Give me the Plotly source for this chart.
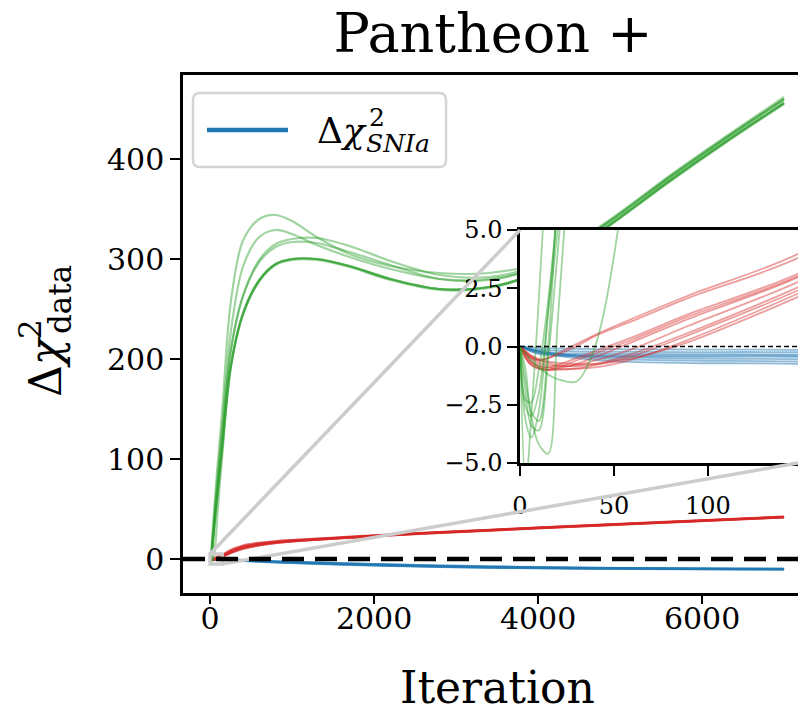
import plotly.graph_objects as go

# Optimiser iterations at which each run was sampled
ITERATION = [0, 3, 6, 10, 15, 20, 30, 40, 60, 90, 150, 250, 400, 600, 800,
             1000, 1300, 1700, 2200, 2800, 3400, 4000, 4800, 5600, 6300, 7000]

# Delta chi^2 of the total data set, one list per run
GREEN_RUNS = [
    [0, -3.2, -3.9, -2.8, 1.5, 6, 15, 24, 42, 66, 115, 193, 245, 279, 295, 300, 300, 293, 280, 270, 272, 287, 330, 378, 418, 456],
    [0, -2.0, -3.4, -3.6, -0.5, 4, 13, 22, 40, 64, 113, 191, 244, 278, 295, 300, 300, 293, 280, 270, 272, 287, 330, 378, 418, 456],
    [0, -1.5, -3.0, -4.2, -4.6, 1, 12, 21, 39, 63, 112, 190, 244, 278, 294, 299, 299, 292, 279, 269, 271, 286, 329, 377, 417, 455],
    [0, -0.3, -0.6, -0.9, -1.2, -1.4, -1.5, 0, 10, 45, 105, 190, 246, 279, 295, 300, 300, 293, 280, 270, 272, 287, 330, 378, 418, 456],
    [0, -2.3, -2.4, -1.0, 2.0, 6, 16, 26, 46, 72, 124, 207, 262, 297, 312, 317, 316, 307, 294, 280, 279, 292, 333, 381, 421, 459],
    [0, -2.6, -3.0, -2.0, 1.5, 5, 15, 25, 45, 71, 123, 207, 263, 299, 315, 320, 321, 313, 298, 284, 282, 294, 334, 382, 422, 460],
    [0, -1.0, -2.8, -3.2, 0, 7, 20, 30, 52, 82, 135, 225, 292, 322, 329, 325, 314, 302, 290, 280, 280, 292, 333, 381, 421, 460],
    [0, -6.0, -3.0, 2, 9, 15, 27, 38, 60, 92, 150, 255, 318, 340, 344, 338, 322, 305, 293, 286, 286, 296, 335, 383, 423, 462],
]

# Delta chi^2 contribution of the second probe, one list per run
RED_RUNS = [
    [0, -0.3, -0.5, -0.6, -0.5, -0.3, 0.1, 0.5, 1.2, 2.2, 4.05, 9.0, 13.5, 16.3, 17.8, 19.0, 20.4, 22.3, 24.6, 27.0, 29.1, 31.5, 34.4, 37.3, 39.8, 42.4],
    [0, -0.2, -0.4, -0.55, -0.5, -0.35, 0.0, 0.45, 1.1, 2.1, 3.87, 8.7, 13.2, 16.0, 17.6, 18.8, 20.2, 22.1, 24.4, 26.9, 29.0, 31.4, 34.3, 37.2, 39.7, 42.3],
    [0, -0.4, -0.7, -0.85, -0.9, -0.8, -0.5, -0.2, 0.4, 1.4, 3.2, 7.8, 12.3, 15.3, 17.1, 18.4, 19.9, 21.8, 24.2, 26.7, 28.9, 31.3, 34.2, 37.1, 39.6, 42.1],
    [0, -0.5, -0.8, -0.95, -1.0, -0.95, -0.75, -0.45, 0.2, 1.2, 3.05, 7.5, 12.0, 15.1, 17.0, 18.3, 19.8, 21.7, 24.1, 26.6, 28.8, 31.2, 34.1, 37.0, 39.5, 42.0],
    [0, -0.3, -0.5, -0.7, -0.8, -0.85, -0.8, -0.6, -0.1, 0.9, 2.84, 7.0, 11.5, 14.7, 16.7, 18.1, 19.7, 21.6, 24.0, 26.5, 28.7, 31.1, 34.0, 36.9, 39.4, 41.9],
    [0, -0.25, -0.45, -0.6, -0.7, -0.8, -0.85, -0.75, -0.3, 0.6, 2.62, 6.6, 11.0, 14.3, 16.4, 17.9, 19.5, 21.5, 23.9, 26.4, 28.6, 31.0, 33.9, 36.8, 39.3, 41.8],
    [0, -0.4, -0.7, -0.9, -1.0, -1.0, -0.95, -0.8, -0.4, 0.5, 2.48, 6.3, 10.7, 14.0, 16.2, 17.7, 19.4, 21.4, 23.8, 26.3, 28.5, 30.9, 33.8, 36.7, 39.2, 41.7],
    [0, -0.3, -0.6, -0.8, -0.9, -0.95, -0.95, -0.9, -0.55, 0.3, 2.34, 6.0, 10.3, 13.7, 16.0, 17.6, 19.3, 21.3, 23.7, 26.2, 28.4, 30.8, 33.7, 36.6, 39.1, 41.6],
    [0, -0.2, -0.4, -0.55, -0.65, -0.7, -0.75, -0.75, -0.5, 0.2, 2.19, 5.7, 10.0, 13.5, 15.8, 17.5, 19.2, 21.2, 23.6, 26.1, 28.3, 30.7, 33.6, 36.5, 39.0, 41.5],
    [0, -0.5, -0.8, -0.95, -1.0, -0.9, -0.6, -0.3, 0.3, 1.3, 3.1, 7.6, 12.1, 15.2, 17.0, 18.3, 19.8, 21.7, 24.1, 26.6, 28.8, 31.2, 34.1, 37.0, 39.5, 42.0],
]

# Delta chi^2 of the SNIa (Pantheon+) likelihood, one list per run
BLUE_RUNS = [
    [0, -0.02, -0.04, -0.06, -0.08, -0.09, -0.1, -0.11, -0.12, -0.13, -0.15, -0.4, -1.0, -1.8, -2.4, -2.9, -3.5, -4.4, -5.4, -6.5, -7.4, -8.1, -8.8, -9.2, -9.5, -9.7],
    [0, -0.05, -0.1, -0.14, -0.17, -0.19, -0.21, -0.22, -0.23, -0.24, -0.25, -0.5, -1.1, -1.9, -2.5, -3.0, -3.7, -4.6, -5.6, -6.7, -7.6, -8.3, -9.0, -9.4, -9.7, -9.9],
    [0, -0.08, -0.15, -0.22, -0.27, -0.29, -0.3, -0.31, -0.32, -0.33, -0.35, -0.6, -1.2, -2.0, -2.6, -3.1, -3.8, -4.8, -5.9, -7.0, -7.9, -8.5, -9.1, -9.5, -9.8, -10.0],
    [0, -0.1, -0.2, -0.28, -0.33, -0.35, -0.36, -0.37, -0.38, -0.39, -0.4, -0.7, -1.3, -2.1, -2.8, -3.3, -4.0, -5.0, -6.1, -7.2, -8.1, -8.7, -9.3, -9.7, -9.9, -10.1],
    [0, -0.1, -0.22, -0.32, -0.38, -0.4, -0.41, -0.42, -0.43, -0.44, -0.45, -0.75, -1.4, -2.3, -3.0, -3.5, -4.3, -5.3, -6.4, -7.5, -8.3, -8.9, -9.4, -9.8, -10.0, -10.2],
    [0, -0.06, -0.12, -0.18, -0.24, -0.3, -0.38, -0.43, -0.48, -0.52, -0.55, -0.85, -1.5, -2.4, -3.1, -3.7, -4.5, -5.5, -6.6, -7.6, -8.4, -9.0, -9.5, -9.9, -10.1, -10.3],
    [0, -0.07, -0.14, -0.21, -0.28, -0.34, -0.43, -0.5, -0.56, -0.61, -0.65, -0.95, -1.6, -2.5, -3.2, -3.8, -4.6, -5.6, -6.7, -7.7, -8.5, -9.1, -9.6, -10.0, -10.2, -10.4],
    [0, -0.08, -0.16, -0.24, -0.32, -0.39, -0.5, -0.58, -0.66, -0.71, -0.75, -1.1, -1.8, -2.7, -3.4, -4.0, -4.8, -5.8, -6.9, -7.9, -8.7, -9.2, -9.7, -10.1, -10.3, -10.5],
]

MAIN_X_TICKS = [0, 2000, 4000, 6000]
MAIN_Y_TICKS = [0, 100, 200, 300, 400]
INSET_X_TICKS = [0, 50, 100]
INSET_Y_TICKS = [-5.0, -2.5, 0.0, 2.5, 5.0]

MAIN_X_RANGE = [-330, 7170]
MAIN_Y_RANGE = [-34, 484]
INSET_X_RANGE = [0, 148]
INSET_Y_RANGE = [-5, 5]

# ---- figure geometry (pixels) ----
W, H = 798, 710
PL, PR, PT, PB = 183, 798, 75, 593
INSET_L, INSET_T, INSET_B = 520, 230, 463
FONT = "DejaVu Serif"

GREEN = "rgba(44,160,44,0.45)"
RED = "rgba(214,39,40,0.45)"
BLUE = "rgba(31,119,180,0.5)"
GREY = "#cccccc"


def px2paper(x, y):
    return (x - PL) / (PR - PL), (PB - y) / (PB - PT)


inset_x0, inset_y1 = px2paper(INSET_L, INSET_T)
_, inset_y0 = px2paper(INSET_L, INSET_B)

fig = go.Figure()

for runs, colour in ((BLUE_RUNS, BLUE), (RED_RUNS, RED), (GREEN_RUNS, GREEN)):
    for run in runs:
        for xa, ya, w in (("x", "y", 2.2), ("x2", "y2", 1.8)):
            fig.add_trace(go.Scatter(
                x=ITERATION, y=run, mode="lines", xaxis=xa, yaxis=ya,
                line=dict(color=colour, width=w, shape="spline", smoothing=0.9),
                showlegend=False, hoverinfo="skip"))

axis_common = dict(showline=True, linecolor="black", ticks="outside",
                   tickcolor="black", showgrid=False, zeroline=False)

fig.update_layout(
    width=W, height=H,
    margin=dict(l=PL, r=W - PR, t=PT, b=H - PB),
    paper_bgcolor="white", plot_bgcolor="white",
    showlegend=False,
    font=dict(family=FONT, color="black"),
    xaxis=dict(domain=[0, 1], range=MAIN_X_RANGE, tickvals=MAIN_X_TICKS,
               ticktext=[str(v) for v in MAIN_X_TICKS], mirror=True,
               linewidth=2.5, ticklen=8, tickwidth=2, ticklabelstandoff=-11,
               tickfont=dict(family=FONT, size=30), **axis_common),
    yaxis=dict(domain=[0, 1], range=MAIN_Y_RANGE, tickvals=MAIN_Y_TICKS,
               ticktext=[str(v) for v in MAIN_Y_TICKS], mirror=False,
               linewidth=2.5, ticklen=10, tickwidth=2,
               tickfont=dict(family=FONT, size=30), **axis_common),
    xaxis2=dict(domain=[inset_x0, 1], anchor="y2", range=INSET_X_RANGE,
                tickvals=INSET_X_TICKS, ticktext=[str(v) for v in INSET_X_TICKS],
                mirror=True, linewidth=2.5, ticklen=10, tickwidth=2,
                ticklabelstandoff=9,
                tickfont=dict(family=FONT, size=24), **axis_common),
    yaxis2=dict(domain=[inset_y0, inset_y1], anchor="x2", range=INSET_Y_RANGE,
                tickvals=INSET_Y_TICKS, tickformat=".1f", mirror=False,
                linewidth=2.5, ticklen=10, tickwidth=2,
                tickfont=dict(family=FONT, size=24), **axis_common),
    title=dict(text="Pantheon +", font=dict(family=FONT, size=54),
               x=px2paper(493, 0)[0], xref="paper", xanchor="center",
               y=1 - 33 / H, yref="container", yanchor="middle"),
)


# data coordinates of the inset's corners on the main axes
def paper2main(px_, py_):
    return (MAIN_X_RANGE[0] + px_ * (MAIN_X_RANGE[1] - MAIN_X_RANGE[0]),
            MAIN_Y_RANGE[0] + py_ * (MAIN_Y_RANGE[1] - MAIN_Y_RANGE[0]))


tl = paper2main(inset_x0, inset_y1)
br = paper2main(1.0, inset_y0)

shapes = [
    # opaque background of the inset, beneath its own curves
    dict(type="rect", xref="x2", yref="y2", x0=INSET_X_RANGE[0], x1=INSET_X_RANGE[1],
         y0=INSET_Y_RANGE[0], y1=INSET_Y_RANGE[1], fillcolor="white",
         line=dict(width=0), layer="below"),
    # zoomed region and its connectors
    dict(type="rect", xref="x", yref="y", x0=INSET_X_RANGE[0], x1=INSET_X_RANGE[1],
         y0=INSET_Y_RANGE[0], y1=INSET_Y_RANGE[1], line=dict(color=GREY, width=3.5),
         layer="above"),
    dict(type="line", xref="x", yref="y", x0=INSET_X_RANGE[0], y0=INSET_Y_RANGE[1],
         x1=tl[0], y1=tl[1], line=dict(color=GREY, width=3.5), layer="above"),
    dict(type="line", xref="x", yref="y", x0=INSET_X_RANGE[1], y0=INSET_Y_RANGE[0],
         x1=br[0], y1=br[1], line=dict(color=GREY, width=3.5), layer="above"),
    # zero reference lines
    dict(type="line", xref="x domain", yref="y", x0=0, x1=1, y0=0, y1=0,
         line=dict(color="black", width=4.5, dash="22px,11px"), layer="above"),
    dict(type="line", xref="x2 domain", yref="y2", x0=0, x1=1, y0=0, y1=0,
         line=dict(color="black", width=1.5, dash="5px,3px"), layer="above"),
]

# legend frame with rounded corners
lx0, ly0 = px2paper(193, 167)
lx1, ly1 = px2paper(446, 93)
rx, ry = 7 / (PR - PL), 7 / (PB - PT)
legend_path = (f"M {lx0 + rx},{ly0} L {lx1 - rx},{ly0} Q {lx1},{ly0} {lx1},{ly0 + ry} "
               f"L {lx1},{ly1 - ry} Q {lx1},{ly1} {lx1 - rx},{ly1} "
               f"L {lx0 + rx},{ly1} Q {lx0},{ly1} {lx0},{ly1 - ry} "
               f"L {lx0},{ly0 + ry} Q {lx0},{ly0} {lx0 + rx},{ly0} Z")
shapes.append(dict(type="path", xref="paper", yref="paper", path=legend_path,
                   fillcolor="white", line=dict(color="#d4d4d4", width=2.5),
                   layer="above"))
sx0, sy = px2paper(207, 130)
sx1, _ = px2paper(288, 130)
shapes.append(dict(type="line", xref="paper", yref="paper", x0=sx0, x1=sx1,
                   y0=sy, y1=sy, line=dict(color="#1f77b4", width=4.5),
                   layer="above"))
fig.update_layout(shapes=shapes)


def label(text, x, y, size, angle=0, xanchor="center", italic=False):
    px_, py_ = px2paper(x, y)
    return dict(text=text, x=px_, y=py_, xref="paper", yref="paper",
                xanchor=xanchor, yanchor="middle", showarrow=False,
                textangle=angle,
                font=dict(family=FONT, size=size, color="black",
                          style="italic" if italic else "normal"))


annotations = [
    # legend entry text
    label("Δ<i>χ</i>", 315, 130.5, 36, xanchor="left"),
    label("2", 367, 118, 25, xanchor="left"),
    label("SNIa", 364, 144, 25, xanchor="left", italic=True),
    # axis labels
    label("Iteration", 497, 687, 44),
    label("Δ<i>χ</i>", 45, 367, 44, angle=-90),
    label("2", 30, 329, 31, angle=-90),
    label("data", 60, 300, 31, angle=-90),
]
fig.update_layout(annotations=annotations)

fig.write_html("out.html")
